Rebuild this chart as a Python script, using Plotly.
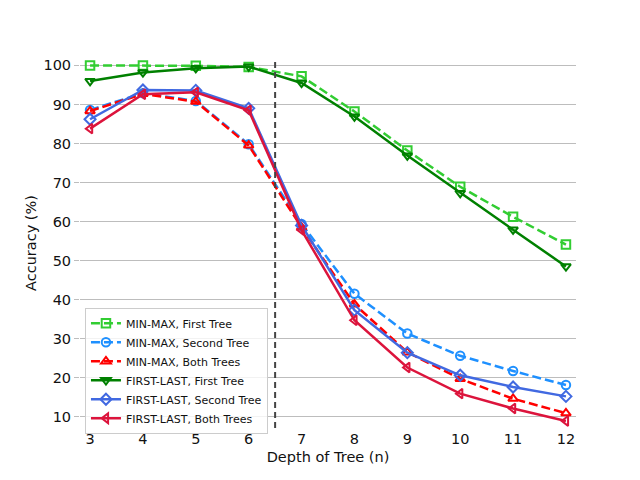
import plotly.graph_objects as go

depth = [3, 4, 5, 6, 7, 8, 9, 10, 11, 12]

mm_first = [100.0, 100.0, 99.9, 99.6, 97.2, 88.2, 78.2, 68.9, 61.2, 54.1]
mm_second = [88.6, 92.9, 90.9, 79.8, 59.4, 41.5, 31.3, 25.6, 21.7, 18.1]
mm_both = [88.3, 92.7, 90.7, 79.5, 58.5, 38.8, 26.5, 19.7, 14.6, 10.9]
fl_first = [96.0, 98.2, 99.3, 99.7, 95.5, 86.9, 76.9, 67.3, 57.9, 48.5]
fl_second = [86.2, 93.7, 93.6, 89.0, 59.0, 37.3, 26.4, 20.6, 17.6, 15.2]
fl_both = [83.8, 92.6, 93.1, 88.5, 57.8, 34.7, 22.6, 15.9, 12.1, 8.9]

series = [
    ("MIN-MAX, First Tree", mm_first, "#32cd32", "dash", "square-open"),
    ("MIN-MAX, Second Tree", mm_second, "#1e90ff", "dash", "circle-open"),
    ("MIN-MAX, Both Trees", mm_both, "#ff0000", "dash", "triangle-up-open"),
    ("FIRST-LAST, First Tree", fl_first, "#008000", "solid", "triangle-down-open"),
    ("FIRST-LAST, Second Tree", fl_second, "#4169e1", "solid", "diamond-open"),
    ("FIRST-LAST, Both Trees", fl_both, "#dc143c", "solid", "triangle-left-open"),
]

fig = go.Figure()
for name, vals, color, dash, symbol in series:
    fig.add_trace(go.Scatter(
        x=depth, y=vals, name=name, mode="lines+markers",
        line=dict(color=color, width=2.5, dash="9px,4px" if dash == "dash" else "solid"),
        marker=dict(symbol=symbol, size=8.5, color=color, line=dict(color=color, width=2)),
    ))

# split between shallow and deep trees
fig.add_vline(x=6.5, line=dict(color="#444444", width=2, dash="6px,4px"))

# page body adds ~8px offset, so figure is slightly smaller than the window
fig.update_layout(
    width=632, height=472,
    margin=dict(l=72, r=64, t=50, b=52),
    paper_bgcolor="white", plot_bgcolor="white",
    font=dict(family="DejaVu Sans", size=13, color="#111111"),
    showlegend=True,
    legend=dict(
        x=0.01, y=0.325, xanchor="left", yanchor="top",
        bgcolor="rgba(255,255,255,0.8)", bordercolor="#cccccc", borderwidth=1,
        font=dict(size=11), tracegroupgap=0,
    ),
)
fig.update_xaxes(
    range=[2.81, 12.19], tickmode="array", tickvals=depth,
    showgrid=False, zeroline=False, showline=False, ticks="",
    tickfont=dict(size=14.5),
    title=dict(text="Depth of Tree (n)", standoff=6, font=dict(size=14.5)),
)
fig.update_yaxes(
    range=[7.1, 101.9], tickmode="array", tickvals=list(range(10, 101, 10)),
    showgrid=True, gridcolor="#bdbdbd", gridwidth=1.2, zeroline=False, showline=False,
    ticks="outside", ticklen=5, tickcolor="#bdbdbd",
    tickfont=dict(size=14.5),
    title=dict(text="Accuracy (%)", standoff=3, font=dict(size=14.5)),
)

fig.write_html("out.html")
